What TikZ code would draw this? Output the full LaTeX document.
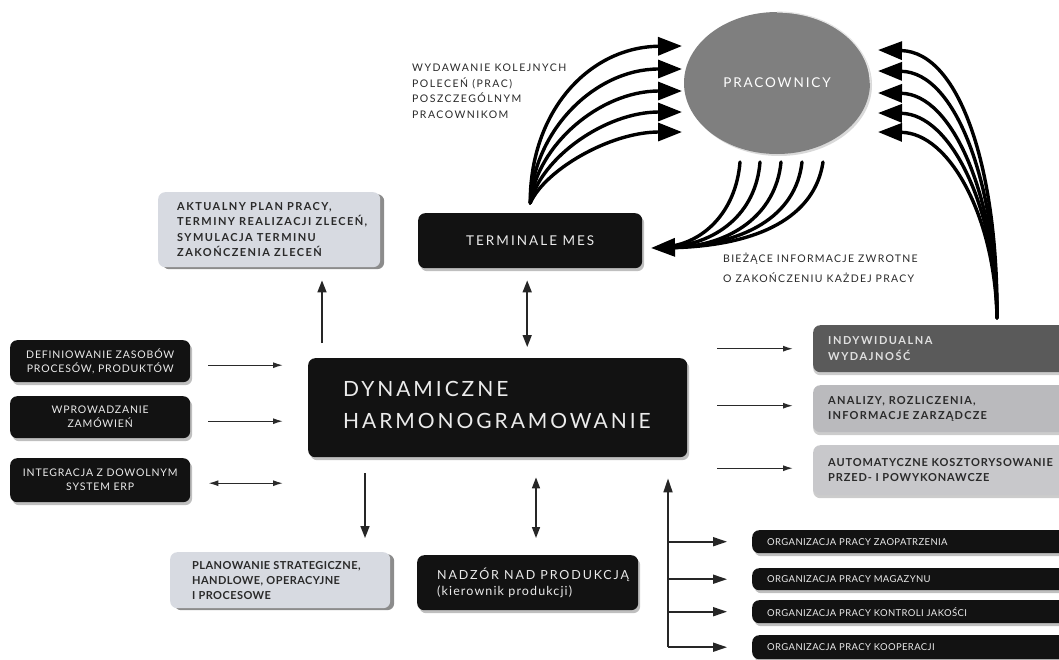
\documentclass[tikz,border=0pt]{standalone}
\usepackage{fontspec}
\setmainfont{Lato}
\usetikzlibrary{arrows.meta,shadows,shapes.geometric}

\definecolor{boxblack}{HTML}{121212}
\definecolor{boxlight}{HTML}{D7DAE1}
\definecolor{ellgray}{HTML}{7F7F7F}
\definecolor{indygray}{HTML}{5A5A5A}
\definecolor{anagray}{HTML}{BABABD}
\definecolor{autogray}{HTML}{C8C8CB}
\definecolor{inkgray}{HTML}{2A2A2A}

% size, baseline skip, letter spacing
\newcommand{\txtsize}[3]{\fontsize{#1}{#2}\selectfont\addfontfeatures{LetterSpace=#3}}

\begin{document}
\begin{tikzpicture}[x=1pt,y=-1pt,
  card/.style={rounded corners=7pt, anchor=north west, inner sep=0pt},
  darkcard/.style={card, fill=boxblack, text=white!92!black,
     drop shadow={shadow xshift=2pt, shadow yshift=-3pt, fill=black, opacity=.25}},
  lightcard/.style={card, fill=boxlight,
     drop shadow={shadow xshift=4pt, shadow yshift=-2pt, fill=black, opacity=.45}},
  graycard/.style={card,
     drop shadow={shadow xshift=0pt, shadow yshift=-3pt, fill=black, opacity=.2}},
  smalltxt/.style={font=\txtsize{10.5}{14}{8}},
  boxtxt/.style={anchor=west, align=left, inner sep=0pt, text=inkgray, font=\bfseries\txtsize{11}{15.5}{13}},
  sidetxt/.style={boxtxt, font=\bfseries\txtsize{11}{15.5}{#1}},
  lbl/.style={anchor=north west, align=left, inner sep=0pt, text=inkgray, font=\txtsize{10.5}{15.5}{14}},
  orgtxt/.style={anchor=west, inner sep=0pt, text=white!92!black, font=\txtsize{9.5}{12}{4}},
  fanline/.style={line width=3.4pt, line cap=round},
  fanhead/.style={-{Triangle[length=24pt,width=18pt]}},
  slimarrow/.style={line width=1.3pt, draw=inkgray, -{Latex[length=10pt,width=6pt]}},
  vertarrow/.style={line width=1.6pt, draw=black!85, -{Triangle[length=12pt,width=9pt]}},
  busarrow/.style={line width=1.7pt, draw=black!85, -{Triangle[length=14pt,width=9pt]}}
]
\useasboundingbox (0,0) rectangle (1059,659);
\clip (0,0) rectangle (1059,659);
\fill[white] (0,0) rectangle (1059,659);

% ---------- workers ----------
\node[ellipse, fill=ellgray, minimum width=186pt, minimum height=142pt, inner sep=0pt,
  text=white, font=\txtsize{13.5}{16}{14},
  drop shadow={shadow xshift=2pt, shadow yshift=-2pt, fill=black, opacity=.15}]
  (prac) at (777,83) {PRACOWNICY};
% light rim along the lower right of the ellipse
\draw[white!80!gray, line width=1.2pt] (prac.east) arc[start angle=0, end angle=-90, x radius=93, y radius=71];

% ---------- MES terminals and plan info ----------
\node[darkcard, minimum width=224pt, minimum height=55pt, font=\txtsize{13.5}{16}{15}]
  (term) at (418,213) {TERMINALE MES};

\node[lightcard, minimum width=222pt, minimum height=75pt] (akt) at (158,192) {};
\node[boxtxt] (akttxt) at ([xshift=19pt]akt.west)
  {AKTUALNY PLAN PRACY,\\TERMINY REALIZACJI ZLECEŃ,\\SYMULACJA TERMINU\\ZAKOŃCZENIA ZLECEŃ};

% ---------- central box ----------
\node[darkcard, minimum width=379pt, minimum height=99pt] (dh) at (308,358) {};
\node[anchor=west, align=left, inner sep=0pt, text=white!92!black, font=\txtsize{21}{32}{14}]
  (dhtxt) at ([xshift=35pt,yshift=3pt]dh.west) {DYNAMICZNE\\HARMONOGRAMOWANIE};

% ---------- inputs on the left ----------
\node[darkcard, smalltxt, align=center, minimum width=180pt, minimum height=42pt]
  (defin) at (10,340) {DEFINIOWANIE ZASOBÓW\\PROCESÓW, PRODUKTÓW};
\node[darkcard, smalltxt, align=center, minimum width=180pt, minimum height=42pt]
  (wprow) at (10,396) {WPROWADZANIE\\ZAMÓWIEŃ};
\node[darkcard, smalltxt, align=center, minimum width=180pt, minimum height=44pt]
  (integ) at (10,458) {INTEGRACJA Z DOWOLNYM\\SYSTEM ERP};

% ---------- outputs on the right ----------
\node[graycard, fill=indygray, minimum width=260pt, minimum height=47pt] (indyw) at (813,325) {};
\node[sidetxt=14, text=white!88!black] (indywtxt) at ([xshift=15pt]indyw.west) {INDYWIDUALNA\\WYDAJNOŚĆ};
\node[graycard, fill=anagray, minimum width=260pt, minimum height=47pt] (anal) at (813,385) {};
\node[sidetxt=11] (analtxt) at ([xshift=15pt]anal.west) {ANALIZY, ROZLICZENIA,\\INFORMACJE ZARZĄDCZE};
\node[graycard, fill=autogray, minimum width=260pt, minimum height=50pt] (auto) at (813,445) {};
\node[sidetxt=8] (autotxt) at ([xshift=15pt]auto.west) {AUTOMATYCZNE KOSZTORYSOWANIE\\PRZED- I POWYKONAWCZE};

% ---------- bottom boxes ----------
\node[lightcard, minimum width=220pt, minimum height=56pt] (plan) at (170,552) {};
\node[boxtxt, font=\bfseries\txtsize{11}{15}{4}] (plantxt) at ([xshift=22pt]plan.west)
  {PLANOWANIE STRATEGICZNE,\\HANDLOWE, OPERACYJNE\\I PROCESOWE};
\node[darkcard, minimum width=221pt, minimum height=55pt] (nadz) at (417,555) {};
\node[anchor=west, align=left, inner sep=0pt, text=white!92!black, font=\txtsize{12.5}{16.5}{15}]
  (nadztxt) at ([xshift=20pt]nadz.west)
  {NADZÓR NAD PRODUKCJĄ\\{\addfontfeatures{LetterSpace=9}(kierownik produkcji)}};

\node[darkcard, minimum width=320pt, minimum height=23pt] (org1) at (752,530) {};
\node[orgtxt] at ([xshift=15pt]org1.west) {ORGANIZACJA PRACY ZAOPATRZENIA};
\node[darkcard, minimum width=320pt, minimum height=22pt] (org2) at (752,568) {};
\node[orgtxt] at ([xshift=15pt]org2.west) {ORGANIZACJA PRACY MAGAZYNU};
\node[darkcard, minimum width=320pt, minimum height=23pt] (org3) at (752,600) {};
\node[orgtxt] at ([xshift=15pt]org3.west) {ORGANIZACJA PRACY KONTROLI JAKOŚCI};
\node[darkcard, minimum width=320pt, minimum height=24pt] (org4) at (752,635) {};
\node[orgtxt] at ([xshift=15pt]org4.west) {ORGANIZACJA PRACY KOOPERACJI};

% ---------- captions ----------
\node[lbl] (cmd) at (412,64) {WYDAWANIE KOLEJNYCH\\POLECEŃ (PRAC)\\POSZCZEGÓLNYM\\PRACOWNIKOM};
\node[lbl, font=\txtsize{10.5}{20}{12}] (fb) at (723,253)
  {BIEŻĄCE INFORMACJE ZWROTNE\\O ZAKOŃCZENIU KAŻDEJ PRACY};

% ---------- orders fanning out to the workers ----------
\coordinate (fanL) at ([yshift=10pt]term.north);
\coordinate (inA1) at (682,46);
\coordinate (inA2) at (682,69);
\coordinate (inA3) at (682,91);
\coordinate (inA4) at (682,112);
\coordinate (inA5) at (682,132);
\draw[fanline, fanhead] (fanL) .. controls (530,110) and (590,47) .. (inA1);
\draw[fanline, fanhead] (fanL) .. controls (534,130) and (595,69) .. (inA2);
\draw[fanline, fanhead] (fanL) .. controls (537,145) and (600,91) .. (inA3);
\draw[fanline, fanhead] (fanL) .. controls (541,158) and (605,112) .. (inA4);
\draw[fanline, fanhead] (fanL) .. controls (545,170) and (610,132) .. (inA5);

% ---------- feedback from the workers to the terminals ----------
\coordinate (outC1) at (740,162);
\coordinate (outC2) at (760,162);
\coordinate (outC3) at (781,162);
\coordinate (outC4) at (802,162);
\coordinate (outC5) at (823,162);
\coordinate (termIn) at (651,248);
\draw[fanline, shorten >=14pt] (outC1) .. controls (736,212) and (703,244) .. (termIn);
\draw[fanline, shorten >=14pt] (outC2) .. controls (756,214) and (716,245) .. (termIn);
\draw[fanline, shorten >=14pt] (outC4) .. controls (796,216) and (745,246) .. (termIn);
\draw[fanline, shorten >=14pt] (outC5) .. controls (815,216) and (760,247) .. (termIn);
\draw[fanline, fanhead] (outC3) .. controls (776,215) and (730,246) .. (termIn);

% ---------- performance data back to the workers ----------
\coordinate (fanR) at (997,318);
\coordinate (inB1) at (878,50);
\coordinate (inB2) at (878,71);
\coordinate (inB3) at (878,93);
\coordinate (inB4) at (878,113);
\coordinate (inB5) at (878,132);
\draw[fanline, fanhead] (fanR) .. controls (998,170) and (960,52) .. (inB1);
\draw[fanline, fanhead] (fanR) .. controls (997,185) and (956,72) .. (inB2);
\draw[fanline, fanhead] (fanR) .. controls (996,198) and (953,94) .. (inB3);
\draw[fanline, fanhead] (fanR) .. controls (996,208) and (951,114) .. (inB4);
\draw[fanline, fanhead] (fanR) .. controls (995,218) and (950,133) .. (inB5);

% ---------- straight connectors ----------
\coordinate (upx) at (322,0);
\draw[vertarrow, shorten <=15pt, shorten >=13pt] (dh.north -| upx) -- (akt.south -| upx);
\draw[vertarrow, {Triangle[length=12pt,width=9pt]}-{Triangle[length=12pt,width=9pt]},
  shorten <=12pt, shorten >=11pt] ([xshift=-3pt]term.south) -- ([xshift=-3pt]term.south |- dh.north);

\draw[slimarrow, shorten <=18pt, shorten >=25pt] ([yshift=-4pt]defin.east) -- ([yshift=-4pt]defin.east -| dh.west);
\draw[slimarrow, shorten <=18pt, shorten >=25pt] ([yshift=-4pt]wprow.east) -- ([yshift=-4pt]wprow.east -| dh.west);
\draw[slimarrow, {Latex[length=10pt,width=6pt]}-{Latex[length=10pt,width=6pt]},
  shorten <=18pt, shorten >=25pt] ([yshift=-3pt]integ.east) -- ([yshift=-3pt]integ.east -| dh.west);

\draw[slimarrow, shorten <=30pt, shorten >=20pt] (indyw.west -| dh.east) -- (indyw.west);
\draw[slimarrow, shorten <=30pt, shorten >=20pt] ([yshift=3pt]anal.west -| dh.east) -- ([yshift=3pt]anal.west);
\draw[slimarrow, shorten <=30pt, shorten >=20pt] ([yshift=2pt]auto.west -| dh.east) -- ([yshift=2pt]auto.west);

\coordinate (downx) at (365,0);
\draw[vertarrow, shorten <=16pt, shorten >=14pt] (dh.south -| downx) -- (plan.north -| downx);
\coordinate (supx) at (536,0);
\draw[vertarrow, {Triangle[length=11pt,width=8pt]}-{Triangle[length=11pt,width=8pt]},
  shorten <=20pt, shorten >=17pt] (dh.south -| supx) -- (nadz.north -| supx);

% ---------- bus to the organisation units ----------
\coordinate (bus) at (668,0);
\draw[busarrow, shorten >=21pt] (org4.west -| bus) -- (dh.south -| bus);
\draw[busarrow, shorten >=25pt] (org1.west -| bus) -- (org1.west);
\draw[busarrow, shorten >=25pt] (org2.west -| bus) -- (org2.west);
\draw[busarrow, shorten >=25pt] (org3.west -| bus) -- (org3.west);
\draw[busarrow, shorten >=25pt] (org4.west -| bus) -- (org4.west);
\end{tikzpicture}
\end{document}
